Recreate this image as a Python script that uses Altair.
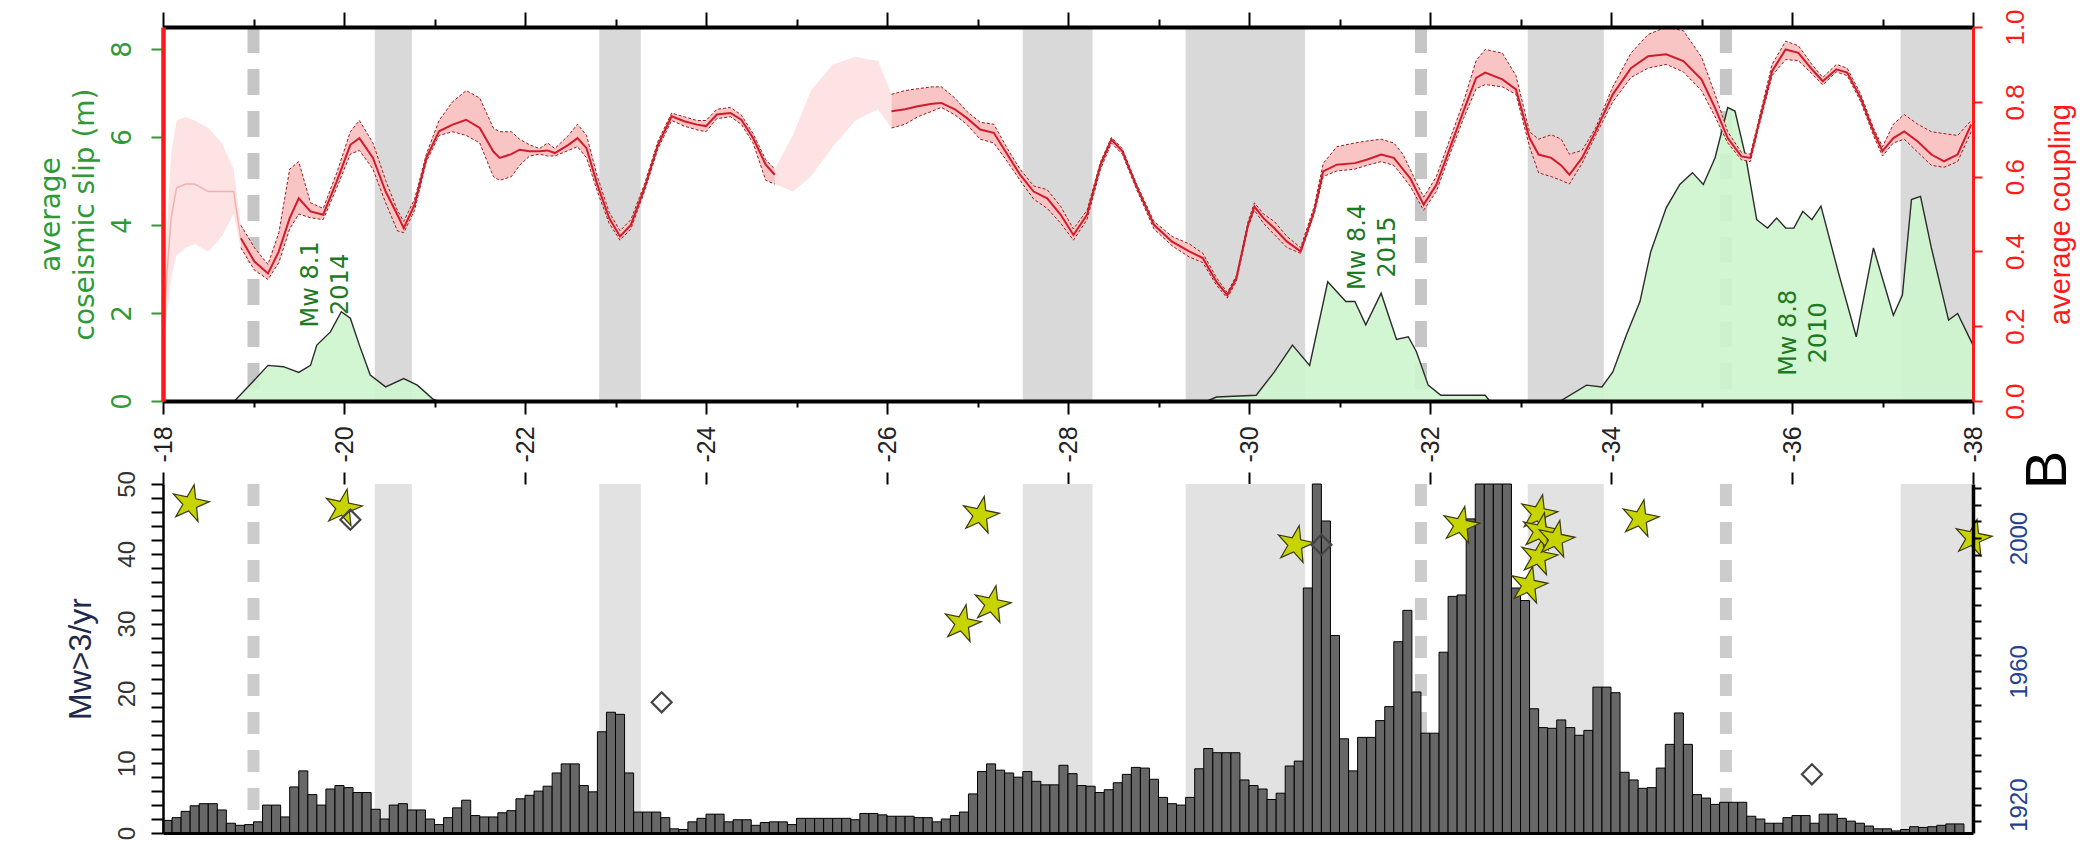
import altair as alt
import pandas as pd

W = 1810
H1 = 374          # top panel height
GAP = 83          # gap between panels
Y2 = H1 + GAP     # top of lower panel
HT = Y2 + 349     # total plot height

GREEN = "#2f9a35"
GREEN_D = "#1d7a22"
RED = "#ff1a1a"
NAVY = "#1f2a4a"
NAVY2 = "#24408e"
STAR = "M0,-1L0.225,-0.309L0.951,-0.309L0.363,0.118L0.588,0.809L0,0.382L-0.588,0.809L-0.363,0.118L-0.951,-0.309L-0.225,-0.309Z"

# ---------------- coupling (right axis, top panel) ----------------
cA_lat = [18.86, 19.01, 19.16, 19.28, 19.40, 19.50, 19.63, 19.77, 19.92, 20.07, 20.17, 20.32, 20.46, 20.59, 20.66, 20.78,
          20.91, 21.05, 21.20, 21.35, 21.50, 21.65, 21.72, 21.85, 21.94, 22.05, 22.16, 22.25, 22.33, 22.48, 22.58, 22.68,
          22.80, 22.93, 23.05, 23.17, 23.32, 23.47, 23.62, 23.76, 23.90, 24.00, 24.12, 24.27, 24.39, 24.52, 24.66, 24.76]
cA_mid = [0.435, 0.373, 0.341, 0.40, 0.489, 0.542, 0.507, 0.498, 0.587, 0.685, 0.703, 0.65, 0.56, 0.498, 0.462, 0.525,
          0.65, 0.721, 0.739, 0.752, 0.73, 0.667, 0.65, 0.66, 0.672, 0.668, 0.668, 0.67, 0.663, 0.685, 0.703, 0.676,
          0.578, 0.489, 0.44, 0.471, 0.569, 0.685, 0.761, 0.748, 0.739, 0.735, 0.766, 0.77, 0.752, 0.703, 0.632, 0.605]
cA_lo = [0.41, 0.35, 0.325, 0.37, 0.46, 0.50, 0.49, 0.485, 0.57, 0.66, 0.67, 0.62, 0.53, 0.455, 0.45, 0.51,
         0.64, 0.71, 0.72, 0.71, 0.69, 0.60, 0.59, 0.60, 0.63, 0.655, 0.66, 0.655, 0.655, 0.67, 0.68, 0.65,
         0.56, 0.475, 0.43, 0.46, 0.56, 0.675, 0.75, 0.735, 0.725, 0.72, 0.755, 0.76, 0.74, 0.69, 0.59, 0.58]
cA_hi = [0.47, 0.41, 0.365, 0.45, 0.62, 0.64, 0.53, 0.515, 0.61, 0.72, 0.75, 0.69, 0.59, 0.51, 0.48, 0.54,
         0.66, 0.75, 0.80, 0.83, 0.81, 0.73, 0.72, 0.72, 0.70, 0.685, 0.675, 0.69, 0.675, 0.71, 0.74, 0.71,
         0.60, 0.505, 0.455, 0.485, 0.58, 0.695, 0.77, 0.76, 0.75, 0.75, 0.78, 0.785, 0.765, 0.715, 0.645, 0.62]

cB_lat = [26.05, 26.20, 26.34, 26.50, 26.60, 26.75, 26.88, 27.03, 27.18, 27.33, 27.47, 27.62, 27.77, 27.92, 28.06, 28.21,
          28.36, 28.48, 28.60, 28.75, 28.95, 29.15, 29.34, 29.49, 29.64, 29.76, 29.86, 29.99, 30.06, 30.16, 30.28, 30.42,
          30.57, 30.72, 30.82, 30.97, 31.17, 31.30, 31.46, 31.60, 31.70, 31.78, 31.93, 32.07, 32.22, 32.37, 32.51, 32.61,
          32.80, 32.95, 33.10, 33.20, 33.34, 33.45, 33.54, 33.68, 33.83, 34.02, 34.22, 34.41, 34.61, 34.80, 35.00, 35.15,
          35.29, 35.44, 35.54, 35.63, 35.78, 35.93, 36.07, 36.22, 36.34, 36.49, 36.61, 36.76, 36.90, 37.00, 37.12, 37.24,
          37.39, 37.54, 37.68, 37.83, 37.98]
cB_mid = [0.775, 0.78, 0.788, 0.795, 0.797, 0.78, 0.757, 0.726, 0.717, 0.659, 0.605, 0.56, 0.542, 0.498, 0.444, 0.498,
          0.632, 0.699, 0.668, 0.578, 0.471, 0.426, 0.40, 0.382, 0.319, 0.283, 0.328, 0.471, 0.52, 0.489, 0.462, 0.426,
          0.40, 0.507, 0.614, 0.632, 0.636, 0.645, 0.659, 0.65, 0.62, 0.596, 0.525, 0.578, 0.676, 0.775, 0.864, 0.878,
          0.86, 0.833, 0.703, 0.659, 0.65, 0.63, 0.605, 0.65, 0.721, 0.82, 0.89, 0.922, 0.927, 0.909, 0.86, 0.784,
          0.703, 0.654, 0.65, 0.739, 0.882, 0.94, 0.931, 0.887, 0.855, 0.887, 0.878, 0.81, 0.721, 0.668, 0.703, 0.721,
          0.694, 0.659, 0.641, 0.659, 0.739]
cB_lo = [0.73, 0.74, 0.76, 0.775, 0.785, 0.765, 0.74, 0.70, 0.69, 0.64, 0.59, 0.54, 0.515, 0.475, 0.43, 0.485,
         0.62, 0.69, 0.66, 0.57, 0.46, 0.415, 0.385, 0.37, 0.31, 0.275, 0.32, 0.465, 0.51, 0.475, 0.445, 0.41,
         0.395, 0.50, 0.60, 0.615, 0.62, 0.63, 0.64, 0.63, 0.60, 0.575, 0.51, 0.56, 0.66, 0.755, 0.835, 0.846,
         0.84, 0.82, 0.68, 0.61, 0.60, 0.59, 0.58, 0.635, 0.71, 0.80, 0.865, 0.89, 0.90, 0.88, 0.83, 0.76,
         0.69, 0.645, 0.64, 0.73, 0.87, 0.913, 0.91, 0.875, 0.845, 0.88, 0.87, 0.80, 0.71, 0.655, 0.69, 0.70,
         0.665, 0.63, 0.625, 0.64, 0.72]
cB_hi = [0.82, 0.83, 0.835, 0.84, 0.84, 0.81, 0.775, 0.745, 0.74, 0.675, 0.62, 0.575, 0.565, 0.52, 0.46, 0.51,
         0.64, 0.705, 0.675, 0.585, 0.48, 0.44, 0.42, 0.395, 0.33, 0.29, 0.335, 0.48, 0.53, 0.50, 0.48, 0.44,
         0.41, 0.52, 0.635, 0.68, 0.69, 0.695, 0.70, 0.69, 0.66, 0.62, 0.545, 0.60, 0.70, 0.80, 0.91, 0.94,
         0.93, 0.87, 0.72, 0.70, 0.712, 0.70, 0.66, 0.67, 0.73, 0.84, 0.93, 0.98, 1.0, 0.99, 0.92, 0.82,
         0.72, 0.665, 0.66, 0.75, 0.90, 0.962, 0.95, 0.90, 0.865, 0.90, 0.89, 0.82, 0.73, 0.68, 0.74, 0.766,
         0.74, 0.72, 0.715, 0.71, 0.75]

# faded (poorly resolved) parts of the coupling band
f1_lat = [18.00, 18.04, 18.09, 18.15, 18.25, 18.35, 18.50, 18.65, 18.78, 18.86]
f1_lo = [0.08, 0.22, 0.33, 0.39, 0.41, 0.42, 0.40, 0.44, 0.50, 0.41]
f1_hi = [0.16, 0.45, 0.66, 0.75, 0.76, 0.75, 0.73, 0.69, 0.62, 0.47]
f1_mid = [0.11, 0.33, 0.49, 0.57, 0.58, 0.58, 0.56, 0.56, 0.56, 0.435]
f2_lat = [24.76, 24.96, 25.16, 25.40, 25.65, 25.90, 26.05]
f2_lo = [0.58, 0.56, 0.60, 0.68, 0.75, 0.78, 0.73]
f2_hi = [0.62, 0.71, 0.83, 0.90, 0.92, 0.91, 0.82]

# ---------------- coseismic slip (left axis, top panel) ----------------
slip_lat = [18.79, 18.99, 19.16, 19.33, 19.50, 19.63, 19.70, 19.85, 19.97, 20.07, 20.17, 20.29, 20.46, 20.66, 20.81, 20.98, 21.03,
            29.54, 29.64, 30.08, 30.28, 30.48, 30.67, 30.87, 31.07, 31.17, 31.29, 31.46, 31.63, 31.76, 31.85, 31.98, 32.12, 32.61, 32.66,
            33.44, 33.73, 33.90, 34.02, 34.17, 34.32, 34.44, 34.61, 34.76, 34.90, 35.02, 35.15, 35.29, 35.37, 35.49, 35.61,
            35.73, 35.83, 35.93, 36.02, 36.12, 36.22, 36.32, 36.51, 36.71, 36.90, 37.12, 37.22, 37.32, 37.42, 37.54, 37.73, 37.83, 38.00]
slip_val = [0, 0.43, 0.81, 0.78, 0.65, 0.81, 1.27, 1.57, 2.03, 1.88, 1.27, 0.59, 0.32, 0.51, 0.36, 0.05, 0,
            0, 0.09, 0.13, 0.66, 1.27, 0.81, 2.71, 2.26, 2.26, 1.73, 2.45, 1.4, 1.46, 1.12, 0.36, 0.13, 0.13, 0,
            0, 0.36, 0.32, 0.66, 1.5, 2.26, 3.4, 4.39, 4.92, 5.19, 4.92, 5.53, 6.67, 6.59, 5.53, 4.12,
            3.93, 4.16, 3.93, 3.93, 4.31, 4.12, 4.43, 2.94, 1.46, 3.48, 1.95, 2.41, 4.58, 4.65, 3.48, 1.84, 1.99, 1.27]

quake_lat = [19.63, 31.2, 35.97]
quake_slip = [2.65, 3.5, 1.55]
quake_text = ["Mw 8.1\n2014", "Mw 8.4\n2015", "Mw 8.8\n2010"]

# ---------------- shared decorations ----------------
band_start = [20.34, 22.82, 27.50, 29.30, 33.08, 37.20]
band_end = [20.75, 23.28, 28.27, 30.62, 33.92, 38.00]
dash_lat = [19.00, 31.90, 35.27]

# ---------------- seismicity histogram (0.1 deg bins from 18) ----------------
hist_counts = [
    1.8, 2.2, 3.1, 3.9, 4.2, 4.2, 3.3, 1.4, 1.1, 1.2,
    1.6, 4.0, 4.0, 2.3, 6.6, 8.9, 5.5, 4.0, 6.3, 6.8,
    6.5, 5.8, 5.8, 3.4, 2.0, 4.0, 4.2, 3.3, 3.3, 2.0,
    1.2, 2.2, 3.6, 4.7, 2.5, 2.3, 2.3, 2.9, 3.2, 4.9,
    5.4, 6.0, 6.7, 8.6, 9.9, 9.9, 6.8, 5.9, 14.5, 17.3,
    17.0, 8.6, 3.0, 3.0, 3.0, 2.2, 0.6, 0.5, 1.6, 2.1,
    2.7, 2.7, 1.6, 1.9, 1.9, 1.1, 1.5, 1.6, 1.6, 1.2,
    2.1, 2.1, 2.1, 2.1, 2.1, 2.1, 1.9, 2.8, 2.8, 2.6,
    2.4, 2.4, 2.4, 2.2, 2.2, 1.6, 2.0, 2.5, 3.0, 5.6,
    8.8, 9.9, 9.0, 8.6, 8.0, 8.8, 7.4, 6.9, 6.9, 9.7,
    8.5, 6.8, 6.7, 5.8, 6.2, 7.2, 8.4, 9.4, 9.3, 7.7,
    5.1, 4.2, 4.0, 5.1, 9.2, 12.1, 11.5, 11.5, 11.5, 7.6,
    6.8, 6.3, 4.8, 5.7, 9.6, 10.3, 35.1, 55.0, 44.7, 28.3,
    13.5, 8.9, 13.7, 13.7, 16.1, 18.1, 27.4, 31.9, 20.2, 14.3,
    14.3, 25.9, 33.9, 34.1, 45.0, 55.0, 55.0, 55.0, 55.0, 35.1,
    33.3, 17.8, 15.1, 15.0, 16.2, 15.1, 14.0, 14.7, 20.9, 20.9,
    20.1, 8.7, 7.6, 6.4, 6.5, 9.3, 12.7, 17.2, 12.7, 5.5,
    5.0, 4.1, 4.4, 4.4, 4.4, 2.4, 2.0, 1.4, 1.4, 2.2,
    2.5, 2.5, 1.4, 2.7, 2.7, 2.1, 1.7, 1.4, 1.0, 0.6,
    0.6, 0.3, 0.5, 0.9, 0.8, 0.9, 1.1, 1.3, 1.3, 0.0,
]
bin_start = [round(18 + 0.1 * k, 1) for k in range(len(hist_counts))]

star_lat = [18.30, 19.99, 26.83, 27.03, 27.16, 30.51, 32.34, 33.09, 33.20, 33.20, 33.22, 33.39, 34.32, 38.00]
star_year = [2010.3, 2009.0, 1974.3, 2006.8, 1980.0, 1998.0, 2003.8, 1985.8, 1994.3, 2007.3, 2001.9, 1999.6, 2005.8, 1999.9]
diam_lat = [20.07, 23.51, 30.80, 36.22]
diam_year = [2005.5, 1950.7, 1998.0, 1929.1]

# ---------------- tables ----------------
coup_df = pd.DataFrame({
    "lat": cA_lat + cB_lat, "mid": cA_mid + cB_mid, "lo": cA_lo + cB_lo, "hi": cA_hi + cB_hi,
    "seg": ["A"] * len(cA_lat) + ["B"] * len(cB_lat)})
fade_df = pd.DataFrame({"lat": f1_lat + f2_lat, "lo": f1_lo + f2_lo, "hi": f1_hi + f2_hi,
                        "seg": ["F1"] * len(f1_lat) + ["F2"] * len(f2_lat)})
f1_df = pd.DataFrame({"lat": f1_lat, "mid": f1_mid})
slip_df = pd.DataFrame({"lat": slip_lat, "slip": slip_val})
ann_df = pd.DataFrame({"lat": quake_lat, "slip": quake_slip, "label": quake_text})
band_df = pd.DataFrame({"start": band_start, "end": band_end})
dash_df = pd.DataFrame({"lat": dash_lat})
hist_df = pd.DataFrame({"x0": bin_start, "x1": [round(b + 0.1, 1) for b in bin_start], "count": hist_counts})
star_df = pd.DataFrame({"lat": star_lat, "year": star_year})
diam_df = pd.DataFrame({"lat": diam_lat, "year": diam_year})
b_df = pd.DataFrame({"t": ["B"]})

xs = alt.Scale(domain=[18, 38], nice=False, zero=False)
even = list(range(18, 39, 2))
odd = list(range(19, 38, 2))


def xax(orient, values, size, domain=False, offset=0):
    return alt.Axis(orient=orient, values=values, labels=False, tickSize=size, tickWidth=2, tickColor="black",
                    domain=domain, domainColor="black", domainWidth=4, grid=False, title=None, zindex=2,
                    offset=offset)


xn = alt.X("lat:Q", scale=xs, axis=None)
ys = alt.Scale(domain=[0, 8.5], nice=False, range=[H1, 0])
yc = alt.Scale(domain=[0, 1], nice=False, range=[H1, 0])
yn = alt.Scale(domain=[0, 50], nice=False, range=[HT, Y2], clamp=True)
yy = alt.Scale(domain=[1911.5, 2016.2], nice=False, zero=False, range=[HT, Y2])

# ================= TOP PANEL =================
top_bands = alt.Chart(band_df).mark_rect(color="#d9d9d9").encode(
    x=alt.X("start:Q", scale=xs, axis=xax("top", even, 15, domain=True)),
    x2="end:Q", y=alt.value(0), y2=alt.value(H1))
top_dash = alt.Chart(dash_df).mark_rule(color="#c6c6c6", strokeWidth=12, strokeDash=[26, 16]).encode(
    x=alt.X("lat:Q", scale=xs, axis=xax("bottom", even, 13, domain=True, offset=-(HT - H1))),
    y=alt.value(0), y2=alt.value(H1))
slip_area = alt.Chart(slip_df).mark_area(color="#cdf4cd", opacity=0.9,
                                         line={"color": "#2b2b2b", "strokeWidth": 1.4}).encode(
    x=alt.X("lat:Q", scale=xs, axis=xax("top", odd, 8)),
    y=alt.Y("slip:Q", scale=ys,
            axis=alt.Axis(orient="left", values=[0, 2, 4, 6, 8], title=["average", "coseismic slip (m)"],
                          titleColor=GREEN, titleFont="DejaVu Sans", titleFontSize=28, titleFontWeight="normal",
                          titleAngle=270, titlePadding=10, titleLineHeight=34,
                          labelColor=GREEN, labelFont="DejaVu Sans", labelFontSize=26, labelAngle=-90,
                          labelAlign="center", labelBaseline="bottom", labelPadding=16, labelFlush=False,
                          tickColor=GREEN, tickSize=12, tickWidth=2, domainColor=RED, domainWidth=4.5,
                          grid=False, zindex=2)))
ann = alt.Chart(ann_df).mark_text(angle=270, font="DejaVu Sans", fontSize=24, color=GREEN_D, lineHeight=30,
                                  lineBreak="\n", align="center", baseline="middle").encode(
    x=alt.X("lat:Q", scale=xs, axis=xax("bottom", odd, 6, offset=-(HT - H1))),
    y=alt.Y("slip:Q", scale=ys, axis=None),
    text="label:N")

c_axis = alt.Axis(orient="right", values=[0, 0.2, 0.4, 0.6, 0.8, 1.0], format=".1f", title="average coupling",
                  titleColor=RED, titleFont="Liberation Sans", titleFontSize=29, titleFontWeight="normal",
                  titleAngle=270, titleBaseline="top", titlePadding=18,
                  labelColor=RED, labelFont="Liberation Sans", labelFontSize=26, labelAngle=270,
                  labelAlign="center", labelBaseline="top", labelPadding=20, labelFlush=False,
                  tickColor=RED, tickSize=9, tickWidth=2, domainColor=RED, domainWidth=3, grid=False, zindex=2)
fade_band = alt.Chart(fade_df).mark_area(color="#fde3e3").encode(
    x=xn, y=alt.Y("lo:Q", scale=yc, axis=c_axis), y2="hi:Q", detail="seg:N")
fade_line = alt.Chart(f1_df).mark_line(color="#f3b0b0", strokeWidth=1.5).encode(
    x=xn, y=alt.Y("mid:Q", scale=yc, axis=None))
c_band = alt.Chart(coup_df).mark_area(color="#f8c4c4").encode(
    x=xn, y=alt.Y("lo:Q", scale=yc, axis=None), y2="hi:Q", detail="seg:N")
c_lo = alt.Chart(coup_df).mark_line(color="#9b1b1b", strokeWidth=1, strokeDash=[3, 2]).encode(
    x=xn, y=alt.Y("lo:Q", scale=yc, axis=None), detail="seg:N")
c_hi = alt.Chart(coup_df).mark_line(color="#9b1b1b", strokeWidth=1, strokeDash=[3, 2]).encode(
    x=xn, y=alt.Y("hi:Q", scale=yc, axis=None), detail="seg:N")
c_mid = alt.Chart(coup_df).mark_line(color="#d01c2a", strokeWidth=2).encode(
    x=xn, y=alt.Y("mid:Q", scale=yc, axis=None), detail="seg:N")

# ================= BOTTOM PANEL =================
bot_bands = alt.Chart(band_df).mark_rect(color="#e2e2e2").encode(
    x=alt.X("start:Q", scale=xs,
            axis=alt.Axis(orient="top", offset=-Y2, values=even, labelExpr="'-' + datum.label", labelAngle=270,
                          labelAlign="left", labelBaseline="middle", labelFont="Liberation Sans", labelFontSize=25,
                          labelColor="#222222", labelPadding=10, labelFlush=False, labelOverlap=False,
                          tickSize=12, tickWidth=2, tickColor="black", domain=False, grid=False, title=None)),
    x2="end:Q", y=alt.value(Y2), y2=alt.value(HT))
bot_dash = alt.Chart(dash_df).mark_rule(color="#cccccc", strokeWidth=12, strokeDash=[22, 16]).encode(
    x=alt.X("lat:Q", scale=xs, axis=alt.Axis(orient="bottom", values=even, labels=False, ticks=False,
                                             domainColor="black", domainWidth=3, grid=False, title=None, zindex=2)),
    y=alt.value(Y2), y2=alt.value(HT))
bars = alt.Chart(hist_df).mark_rect(color="#676767", stroke="black", strokeWidth=1).encode(
    x=alt.X("x0:Q", scale=xs, axis=None), x2="x1:Q",
    y=alt.Y("count:Q", scale=yn,
            axis=alt.Axis(orient="left", values=list(range(0, 51, 2)),
                          labelExpr="datum.value % 10 === 0 ? datum.label : ''",
                          title="Mw>3/yr", titleColor=NAVY, titleFont="Liberation Sans", titleFontSize=32,
                          titleFontWeight="normal", titleAngle=270, titlePadding=18,
                          labelColor="#333333", labelFont="Liberation Sans", labelFontSize=24, labelAngle=-90,
                          labelAlign="center", labelBaseline="bottom", labelPadding=12, labelFlush=False,
                          labelOverlap=False, tickSize=12, tickWidth=2, tickColor="black",
                          domainColor="black", domainWidth=2.5, grid=False, zindex=2)),
    y2=alt.datum(0))

year_axis = alt.Axis(orient="right", values=list(range(1915, 2016, 5)), format="d",
                     labelExpr="datum.value % 40 === 0 ? datum.label : ''", title=None,
                     labelColor=NAVY2, labelFont="Liberation Sans", labelFontSize=24, labelAngle=270,
                     labelAlign="center", labelBaseline="top", labelPadding=26, labelFlush=False,
                     labelOverlap=False, tickSize=8, tickWidth=2, tickColor="black",
                     domainColor="black", domainWidth=3.5, grid=False, zindex=2)
stars = alt.Chart(star_df).mark_point(shape=STAR, filled=True, size=1500, fill="#c8d400", stroke="#3a3a10",
                                      strokeWidth=1.2, opacity=1, angle=12).encode(
    x=xn, y=alt.Y("year:Q", scale=yy, axis=year_axis))
diamonds = alt.Chart(diam_df).mark_point(shape="diamond", filled=False, size=400, stroke="#444444",
                                         strokeWidth=2.2, opacity=1).encode(
    x=xn, y=alt.Y("year:Q", scale=yy, axis=None))
b_text = alt.Chart(b_df).mark_text(
    angle=270, font="Liberation Sans", fontSize=58, color="black", align="center", baseline="middle").encode(
    text="t:N", x=alt.value(W + 76), y=alt.value(Y2 - 14))

chart = alt.layer(
    top_bands, top_dash, bot_bands, bot_dash,
    slip_area, fade_band, fade_line, c_band, c_lo, c_hi, c_mid, ann,
    bars, stars, diamonds, b_text,
).resolve_scale(y="independent").resolve_axis(x="independent").properties(
    width=W, height=HT,
    padding={"left": 28, "top": 0, "right": 0, "bottom": 0},
).configure_view(strokeWidth=0)

chart.save("out.html", embed_options={"renderer": "svg", "actions": False})
